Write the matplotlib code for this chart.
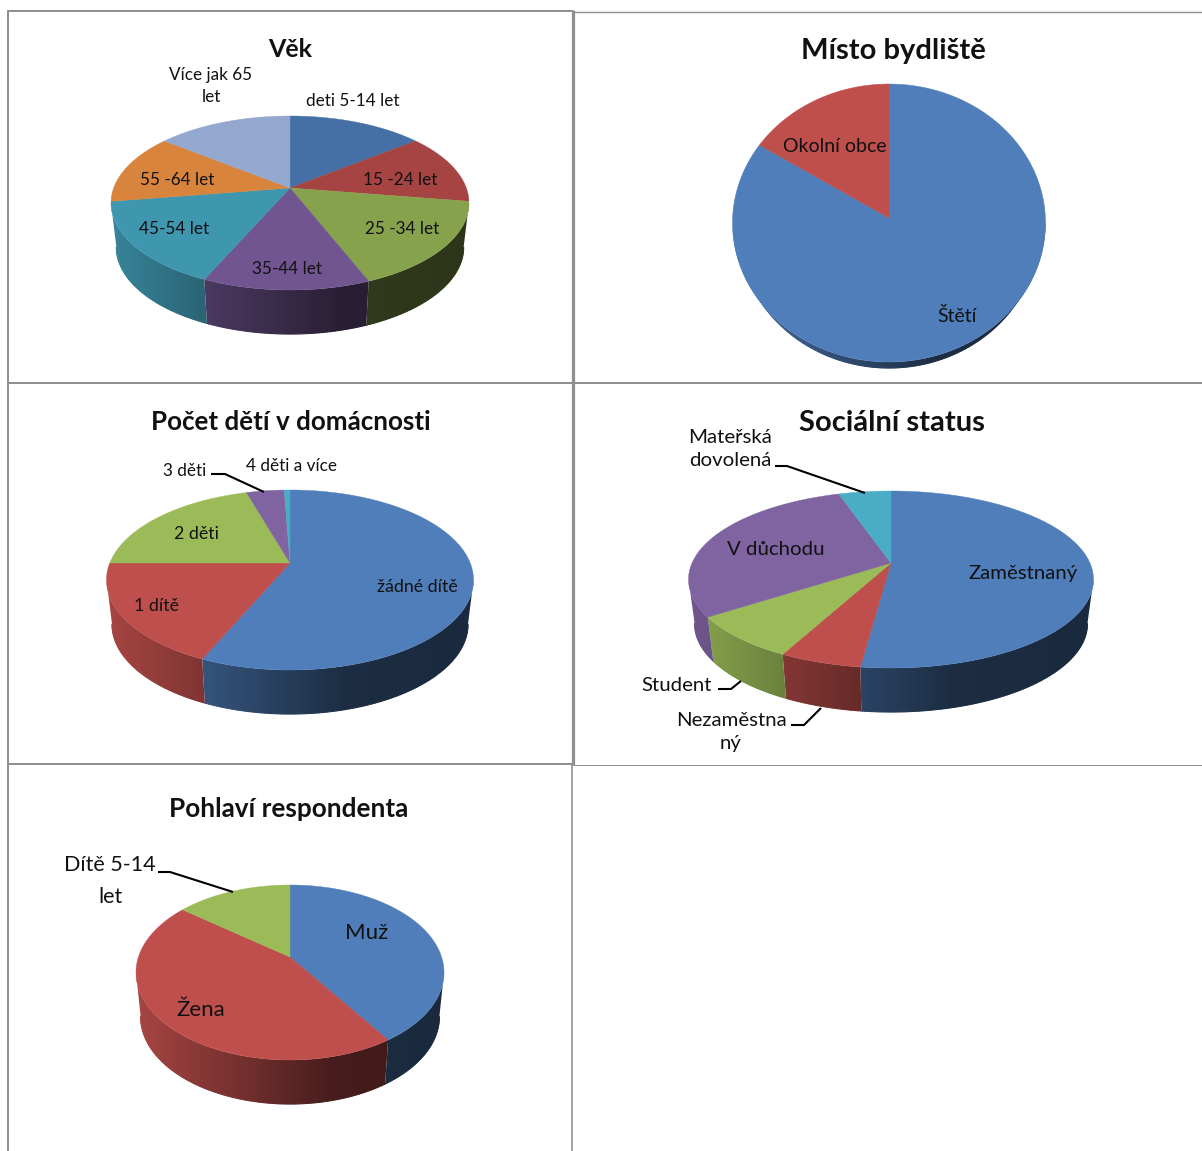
import numpy as np
import matplotlib
matplotlib.use("Agg")
import matplotlib.pyplot as plt
from matplotlib.patches import Polygon

# ---- data ----
vek_labels = ["deti 5-14 let", "15 -24 let", "25 -34 let", "35-44 let", "45-54 let", "55 -64 let", "Více jak 65\nlet"]
vek_values = [14.4, 13.0, 16.4, 12.8, 15.8, 13.0, 14.4]
misto_labels = ["Štětí", "Okolní obce"]
misto_values = [84.0, 16.0]
deti_labels = ["žádné dítě", "1 dítě", "2 děti", "3 děti", "4 děti a více"]
deti_values = [56.6, 18.4, 20.4, 4.0, 0.6]
status_labels = ["Zaměstnaný", "Nezaměstna\nný", "Student", "V důchodu", "Mateřská\ndovolená"]
status_values = [52.0, 5.5, 7.9, 29.6, 5.0]
pohlavi_labels = ["Muž", "Žena", "Dítě 5-14\nlet"]
pohlavi_values = [40.7, 44.9, 14.4]

# ---- styles ----
OFFICE = ["#4F7EBA", "#BE4F4C", "#9BBB59", "#8064A2", "#4BACC6"]
VEK_COL = ["#4470A6", "#A64443", "#87A24D", "#705590", "#3F96AF", "#D9843C", "#94A8CF"]
FONT = "Lato"

fig = plt.figure(figsize=(12.02, 11.51), dpi=100, facecolor="white")
ax = fig.add_axes([0, 0, 1, 1])
ax.set_xlim(0, 1202)
ax.set_ylim(1151, 0)
ax.axis("off")

def shade(rgb, sx):
    f = np.interp(sx, [-1, -0.5, 0, 0.3, 1], [0.88, 0.68, 0.48, 0.36, 0.33])
    return np.outer(f, rgb)

def pie3d(values, colors, cx, cy, rx, up, down, depth, taper=0.97):
    k = (down - up) / (down + up)
    a = up * (1 + k)
    b = rx * np.sqrt(1 - k ** 2)
    def proj(ang):
        x, y = np.sin(ang), np.cos(ang)
        w = 1 + k * y
        return cx + b * x / w, cy - a * y / w
    vals = np.asarray(values, float)
    edges = np.concatenate([[0], np.cumsum(vals) / vals.sum()]) * 2 * np.pi
    for i in range(len(vals)):
        n = max(3, int((edges[i + 1] - edges[i]) / 0.005))
        th = np.linspace(edges[i], edges[i + 1], n)
        px, py = proj(th)
        front = np.r_[px[1:] < px[:-1], False] | np.r_[False, px[1:] < px[:-1]]
        if front.sum() >= 2:
            fx, fy = px[front], py[front]
            bx = cx + (fx - cx) * taper
            by = fy + depth
            poly = np.c_[np.r_[fx, bx[::-1]], np.r_[fy, by[::-1]]]
            rgb = np.array(matplotlib.colors.to_rgb(colors[i]))
            x0, x1 = min(fx.min(), bx.min()), max(fx.max(), bx.max())
            cols = np.linspace(x0, x1, 200)
            img = shade(rgb, (cols - cx) / rx)[None, :, :]
            im = ax.imshow(img, extent=(x0, x1, by.max() + 1, fy.min() - 1),
                           aspect="auto", interpolation="bilinear", zorder=2)
            im.set_clip_path(Polygon(poly, closed=True, transform=ax.transData))
            # soft outline for the lower rim, so that the clip edge stays smooth
            lo = shade(rgb, (bx - cx) / rx)
            for j in range(0, len(bx) - 1, 2):
                ax.plot(bx[j:j + 3], by[j:j + 3], color=lo[j], lw=0.8, zorder=2,
                        solid_capstyle="round")
    for i in range(len(vals)):
        n = max(3, int((edges[i + 1] - edges[i]) / 0.01))
        th = np.linspace(edges[i], edges[i + 1], n)
        px, py = proj(th)
        ax.fill(np.r_[cx, px], np.r_[cy, py], color=colors[i], lw=0.3, zorder=3)
    ax.set_xlim(0, 1202)
    ax.set_ylim(1151, 0)

def label(txt, x, y, size=12.3, family=FONT, ls=1.42, **kw):
    ax.text(x, y, txt, ha="center", va="center", fontsize=size, family=family,
            color="#111111", linespacing=ls, zorder=5, **kw)

def leader(xs, ys):
    ax.plot(xs, ys, color="black", lw=1.5, zorder=4, solid_capstyle="butt")

# ---- table grid ----
G = "#8f8f8f"
for xs, ys, lw in [([8, 8], [10, 1151], 2), ([573, 573], [10, 765], 3.2), ([572, 572], [765, 1151], 1.6),
                   ([8, 573], [11, 11], 2), ([573, 1202], [11.5, 11.5], 1.4),
                   ([8, 1202], [382.5, 382.5], 2), ([8, 573], [764, 764], 2), ([573, 1202], [764.5, 764.5], 1)]:
    ax.plot(xs, ys, color=G, lw=lw * 0.72, zorder=1, solid_capstyle="butt")

# ---- Věk ----
pie3d(vek_values, VEK_COL, 290, 188, 179, 72, 102, 44)
label("Věk", 290, 49, size=18, weight="bold")
for t, p in zip(vek_labels, [(353, 101), (400, 180), (402, 229), (287, 269), (174, 229), (177, 180), (211, 86)]):
    label(t, *p)

# ---- Místo bydliště ----
pie3d(misto_values, OFFICE, 889, 218, 156.5, 134, 144, 6, taper=0.962)
label("Místo bydliště", 893, 51, size=21, weight="bold")
for t, p in zip(misto_labels, [(957, 316), (835, 146)]):
    label(t, *p, size=14)

# ---- Počet dětí ----
pie3d(deti_values, OFFICE, 290, 563, 183.5, 73, 107, 44)
label("Počet dětí v domácnosti", 291, 422, size=18.7, weight="bold")
for t, p, s in zip(deti_labels, [(417, 587), (156, 606), (196, 534), (185, 471), (291, 466)], [12.8, 12.8, 12.8, 12.3, 12.3]):
    label(t, *p, size=s)
leader([211, 225, 264], [474, 474, 492])

# ---- Sociální status ----
pie3d(status_values, OFFICE, 891, 563, 202.5, 72, 105, 44)
label("Sociální status", 892, 423, size=21, weight="bold")
for t, p in zip(status_labels, [(1023, 573), (731, 732), (677, 685), (776, 549), (730, 449)]):
    label(t, *p, size=14.7, ls=1.4)
leader([775, 787, 865], [466, 466, 493])
leader([718, 731, 741], [689, 689, 681])
leader([791, 804, 821], [725, 725, 708])

# ---- Pohlaví respondenta ----
pie3d(pohlavi_values, OFFICE, 290, 957, 154, 72, 103, 44)
label("Pohlaví respondenta", 289, 809, size=18.8, weight="bold")
for t, p, s, l in zip(pohlavi_labels, [(367, 933), (201, 1010), (110, 881)], [16, 16, 15.5], [1.3, 1.3, 1.7]):
    label(t, *p, size=s, ls=l)
leader([158, 170, 233], [872, 872, 892])

fig.savefig("out.png", dpi=100, facecolor="white")
